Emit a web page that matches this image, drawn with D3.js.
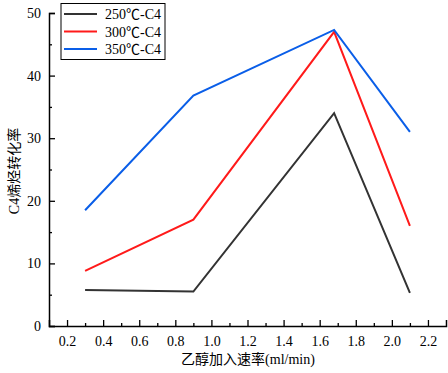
<!DOCTYPE html>
<html>
<head>
<meta charset="utf-8">
<script src="https://cdn.jsdelivr.net/npm/d3@7"></script>
<style>
  body { margin: 0; background: #fff; }
</style>
</head>
<body>
<div id="chart"></div>
<script>
const rates = [0.3, 0.9, 1.68, 2.1];
const s250 = [5.75, 5.5, 34.0, 5.3];
const s300 = [8.8, 17.0, 47.0, 16.0];
const s350 = [18.5, 36.8, 47.3, 31.0];
const seriesNames = ["250℃-C4", "300℃-C4", "350℃-C4"];
const colors = ["#333333", "#ff1a1a", "#0a5ee8"];
const xTicks = [0.2, 0.4, 0.6, 0.8, 1.0, 1.2, 1.4, 1.6, 1.8, 2.0, 2.2];
const yTicks = [0, 10, 20, 30, 40, 50];

const w = 448, h = 373;
const m = { l: 49, r: 2, t: 13, b: 47 };
const serif = "'Liberation Serif', 'Times New Roman', 'Noto Sans CJK SC', serif";

const svg = d3.select("#chart").append("svg").attr("width", w).attr("height", h)
  .attr("font-family", serif);

const x = d3.scaleLinear().domain([0.1, 2.3]).range([m.l, w - m.r]);
const y = d3.scaleLinear().domain([0, 50]).range([h - m.b, m.t]);

// minor ticks
svg.append("g").attr("transform", `translate(0,${h - m.b})`)
  .call(d3.axisBottom(x).tickValues(d3.range(0.3, 2.3, 0.2)).tickSize(-3).tickFormat(""))
  .call(g => g.select(".domain").remove());
svg.append("g").attr("transform", `translate(${m.l},0)`)
  .call(d3.axisLeft(y).tickValues([5, 15, 25, 35, 45]).tickSize(-3).tickFormat(""))
  .call(g => g.select(".domain").remove());

svg.append("g").attr("transform", `translate(0,${h - m.b})`)
  .call(d3.axisBottom(x).tickValues(xTicks).tickSize(-6).tickPadding(10).tickFormat(d3.format(".1f")));
svg.append("g").attr("transform", `translate(${m.l},0)`)
  .call(d3.axisLeft(y).tickValues(yTicks).tickSize(-6).tickPadding(8));

svg.selectAll("g").attr("font-family", serif);
svg.selectAll(".tick line").attr("stroke", "#000").attr("stroke-width", 1.3);
svg.selectAll(".domain").attr("stroke", "#000").attr("stroke-width", 1.5);
svg.selectAll(".tick text").attr("font-size", 14).attr("fill", "#000");

const allSeries = [s250, s300, s350];
const line = d3.line().x((d, i) => x(rates[i])).y(d => y(d));
svg.append("g").selectAll("path")
  .data(allSeries)
  .join("path")
    .attr("fill", "none")
    .attr("stroke", (d, i) => colors[i])
    .attr("stroke-width", 2)
    .attr("d", line);

// legend
const lg = svg.append("g");
lg.append("rect").attr("x", 61).attr("y", 3.5).attr("width", 104).attr("height", 56)
  .attr("fill", "#fff").attr("stroke", "#000").attr("stroke-width", 1);
seriesNames.forEach((n, i) => {
  const yy = 14 + i * 17.5;
  lg.append("line").attr("x1", 64).attr("x2", 97).attr("y1", yy).attr("y2", yy)
    .attr("stroke", colors[i]).attr("stroke-width", 2);
  lg.append("text").attr("x", 105).attr("y", yy + 5).attr("font-size", 14).text(n);
});

svg.append("text")
  .attr("transform", `translate(19,171) rotate(-90)`)
  .attr("text-anchor", "middle").attr("font-size", 14).text("C4烯烃转化率");
svg.append("text")
  .attr("x", 248).attr("y", 364)
  .attr("text-anchor", "middle").attr("font-size", 14).text("乙醇加入速率(ml/min)");
</script>
</body>
</html>
